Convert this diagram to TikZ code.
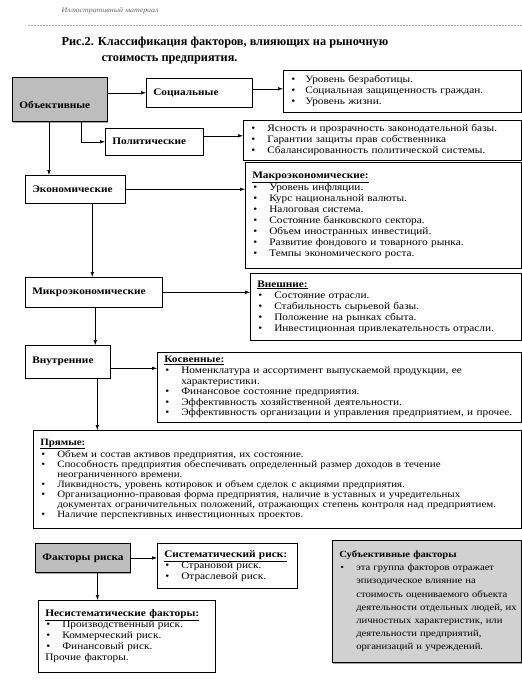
\documentclass[tikz,border=0pt]{standalone}
\usepackage{fontspec}
\setmainfont{Liberation Serif}[FakeStretch=1.13]
\newfontfamily\titlefont{Liberation Serif}
\usetikzlibrary{arrows.meta,shadows}
\newlength\itmind
\setlength\itmind{17pt}
\newcommand{\bi}[1]{\makebox[\itmind][l]{\hspace{1pt}\textbullet}\mbox{#1}}
\newcommand{\ci}[1]{\hspace*{\itmind}\mbox{#1}}
\newcommand{\hd}[1]{\textbf{\underline{#1}}}
\begin{document}
\begin{tikzpicture}[x=1pt,y=-1pt,
  lbox/.style={draw, fill=white, line width=.6pt, anchor=north west, align=left, inner xsep=7pt, inner ysep=2pt, font=\fontsize{10}{11}\selectfont, drop shadow={shadow xshift=.7pt, shadow yshift=-.9pt, fill=black!55}},
  cbox/.style={draw, fill=white, line width=.6pt, anchor=north west, align=left, inner xsep=7pt, inner ysep=2pt, font=\bfseries\fontsize{10}{11}\selectfont, drop shadow={shadow xshift=.7pt, shadow yshift=-.9pt, fill=black!55}},
  gbox/.style={cbox, fill=gray!52, line width=.9pt, drop shadow={shadow xshift=1pt, shadow yshift=-1.3pt, fill=black!70}},
  arr/.style={-{Latex[length=5pt,width=3.5pt]}, line width=.5pt}]
\useasboundingbox (0,0) rectangle (522,680);
% header
\node[anchor=west, font=\itshape\fontsize{7}{8}\selectfont, text=black!60] (hdr) at (58,11) {Иллюстративный материал};
\draw[black!35, line width=.4pt, dash pattern=on 2pt off 1pt] (28,25) -- (522,25);
\node[anchor=west, font=\titlefont\bfseries\fontsize{12.3}{14}\selectfont] (t1) at (58,43) {Рис.2. Классификация факторов, влияющих на рыночную};
\node[anchor=west, font=\titlefont\bfseries\fontsize{12.3}{14}\selectfont] (t2) at (98,60) {стоимость предприятия.};
% boxes
\node[gbox, text width=81pt, minimum height=44pt] (obj) at (12,77) {\raisebox{-7pt}[6pt][2pt]{Объективные}};
\node[cbox, text width=92pt, minimum height=29pt] (soc) at (146,78) {\raisebox{2pt}{Социальные}};
\node[lbox, text width=224pt, minimum height=42pt] (list1) at (283,70) {\setlength\itmind{15pt}\bi{Уровень безработицы.}\\\bi{Социальная защищенность граждан.}\\\bi{Уровень жизни.}};
\node[cbox, text width=84pt, minimum height=27pt] (pol) at (105,128) {\raisebox{2pt}{Политические}};
\node[lbox, text width=264pt, minimum height=40pt] (pollist) at (243,120) {\bi{Ясность и прозрачность законодательной базы.}\\\bi{Гарантии защиты прав собственника}\\\bi{Сбалансированность политической системы.}};
\node[cbox, text width=86pt, minimum height=28pt] (econ) at (25,175) {Экономические};
\node[lbox, text width=262pt, minimum height=106pt] (macro) at (245,162) {\hd{Макроэкономические:}\\\bi{Уровень инфляции.}\\\bi{Курс национальной валюты.}\\\bi{Налоговая система.}\\\bi{Состояние банковского сектора.}\\\bi{Объем иностранных инвестиций.}\\\bi{Развитие фондового и товарного рынка.}\\\bi{Темпы экономического роста.}};
\node[cbox, text width=123pt, minimum height=30pt] (micro) at (25,277) {\raisebox{2pt}{Микроэкономические}};
\node[lbox, text width=257pt, minimum height=67pt] (ext) at (250,273) {\hd{Внешние:}\\\bi{Состояние отрасли.}\\\bi{Стабильность сырьевой базы.}\\\bi{Положение на рынках сбыта.}\\\bi{Инвестиционная привлекательность отрасли.}};
\node[cbox, text width=71pt, minimum height=33pt] (intr) at (25,345) {Внутренние};
\node[lbox, text width=350pt, minimum height=70pt, font=\fontsize{10}{10.6}\selectfont] (kosv) at (157,352) {\hd{Косвенные:}\\\bi{Номенклатура и ассортимент выпускаемой продукции, ее}\\\ci{характеристики.}\\\bi{Финансовое состояние предприятия.}\\\bi{Эффективность хозяйственной деятельности.}\\\bi{Эффективность организации и управления предприятием, и прочее.}};
\node[lbox, text width=474pt, minimum height=98pt, font=\fontsize{9.7}{10.1}\selectfont] (pryam) at (33,430) {\hd{Прямые:}\\\bi{Объем и состав активов предприятия, их состояние.}\\\bi{Способность предприятия обеспечивать определенный размер доходов в течение}\\\ci{неограниченного времени.}\\\bi{Ликвидность, уровень котировок и объем сделок с акциями предприятия.}\\\bi{Организационно-правовая форма предприятия, наличие в уставных и учредительных}\\\ci{документах ограничительных положений, отражающих степень контроля над предприятием.}\\\bi{Наличие перспективных инвестиционных проектов.}};
\node[gbox, text width=81pt, minimum height=29pt] (risk) at (35,543) {\raisebox{2pt}{Факторы риска}};
\node[lbox, text width=126pt, minimum height=45pt] (sys) at (157,543) {\hd{Систематический риск:}\\\bi{Страновой риск.}\\\bi{Отраслевой риск.}};
\node[lbox, text width=163pt, minimum height=72pt] (nonsys) at (38,600) {\hd{Несистематические факторы:}\\\bi{Производственный риск.}\\\bi{Коммерческий риск.}\\\bi{Финансовый риск.}\\Прочие факторы.};
\node[lbox, fill=gray!36, text width=175pt, minimum height=122pt, font=\fontsize{9.4}{13.2}\selectfont, drop shadow={shadow xshift=.8pt, shadow yshift=-1.4pt, fill=black!75}] (subj) at (332,540) {\textbf{Субъективные факторы}\\\bi{эта группа факторов отражает}\\\ci{эпизодическое влияние на}\\\ci{стоимость оцениваемого объекта}\\\ci{деятельности отдельных людей, их}\\\ci{личностных характеристик, или}\\\ci{деятельности предприятий,}\\\ci{организаций и учреждений.}};
% connectors
\draw[arr] (obj.east |- soc.west) -- (soc.west);
\coordinate (s1) at ([yshift=4pt]soc.east);
\draw[arr] (s1) -- (s1 -| list1.west);
\coordinate (o1) at ([xshift=21pt]obj.south);
\draw[arr] (o1) |- (pol.west);
\coordinate (p1) at ([yshift=6pt]pol.east);
\draw[arr] (p1) -- (p1 -| pollist.west);
\coordinate (o2) at ([xshift=-11pt]obj.south);
\draw[arr] (o2) -- (o2 |- econ.north);
\draw[arr] (econ.east) -- (econ.east -| macro.west);
\coordinate (e1) at ([xshift=17pt]econ.south);
\draw[arr] (e1) -- (e1 |- micro.north);
\draw[arr] (micro.east) -- (micro.east -| ext.west);
\coordinate (m1) at ([xshift=1.5pt]micro.south);
\draw[arr] (m1) -- (m1 |- intr.north);
\coordinate (i1) at ([yshift=-6.5pt]intr.east);
\draw[arr] (i1) -- (i1 -| kosv.west);
\coordinate (i2) at ([xshift=29.5pt]intr.south);
\draw[arr] (i2) -- (i2 |- pryam.north);
\draw[arr] (risk.east) -- (risk.east -| sys.west);
\coordinate (r1) at ([xshift=14.5pt]risk.south);
\draw[arr] (r1) -- (r1 |- nonsys.north);
\end{tikzpicture}
\end{document}
